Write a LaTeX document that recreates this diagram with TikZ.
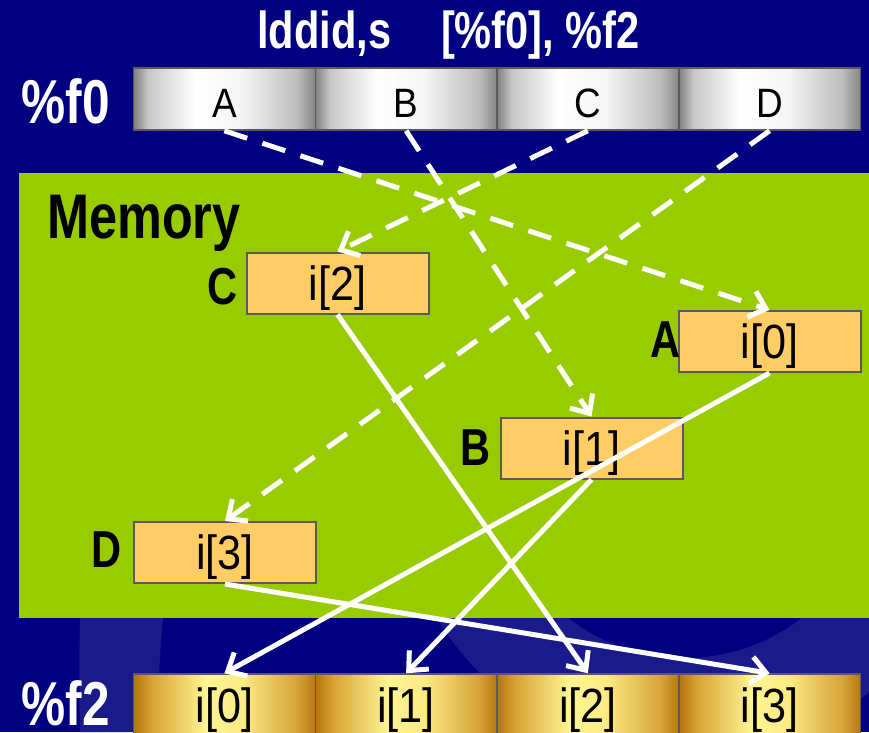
\documentclass[tikz,border=0pt]{standalone}
\usepackage{fontspec}
\setmainfont{Liberation Sans}
\newfontfamily\condb[FakeStretch=0.8]{Liberation Sans}
\newfontfamily\condr[FakeStretch=0.9]{Liberation Sans}
\usetikzlibrary{arrows.meta}
\definecolor{navybg}{HTML}{000080}
\definecolor{ringcol}{HTML}{1A1A8A}
\definecolor{memgreen}{HTML}{99CC00}
\definecolor{boxorange}{HTML}{FFCC66}
\definecolor{cellborder}{HTML}{5A5A5A}
% positions 25bp..75bp map onto the shaded path
\pgfdeclarehorizontalshading{silverbar}{100bp}{rgb(0bp)=(0.5,0.5,0.5); rgb(25bp)=(0.5,0.5,0.5); rgb(29bp)=(0.78,0.78,0.78); rgb(42bp)=(1,1,1); rgb(55bp)=(0.96,0.96,0.96); rgb(70bp)=(0.74,0.74,0.74); rgb(75bp)=(0.52,0.52,0.52); rgb(100bp)=(0.52,0.52,0.52)}
\pgfdeclarehorizontalshading{goldbar}{100bp}{rgb(0bp)=(0.70,0.45,0.05); rgb(25bp)=(0.70,0.45,0.05); rgb(30bp)=(0.85,0.64,0.20); rgb(45bp)=(1,0.96,0.58); rgb(55bp)=(0.99,0.92,0.52); rgb(70bp)=(0.84,0.64,0.22); rgb(75bp)=(0.71,0.47,0.07); rgb(100bp)=(0.71,0.47,0.07)}
\tikzset{
  x=1pt, y=-1pt,
  titletxt/.style={text=white, inner sep=0pt, font=\condb\bfseries\fontsize{52}{52}\selectfont},
  regname/.style={text=white, inner sep=0pt, text depth=0pt, font=\condb\bfseries\fontsize{62}{62}\selectfont},
  memtitle/.style={text=black, inner sep=0pt, font=\condb\bfseries\fontsize{63}{63}\selectfont},
  memlabel/.style={text=black, inner sep=0pt, font=\condb\bfseries\fontsize{52}{52}\selectfont},
  regcell/.style={rectangle, draw=cellborder, line width=1.5pt, shading=silverbar,
     minimum width=181.75pt, minimum height=62pt, inner sep=0pt,
     text height=37pt, text depth=0pt, font=\condr\fontsize{41}{41}\selectfont},
  goldcell/.style={rectangle, draw=cellborder, line width=1.5pt, shading=goldbar,
     minimum width=181.75pt, minimum height=63pt, inner sep=0pt,
     text height=34pt, text depth=0pt, font=\condr\fontsize{48}{48}\selectfont},
  membox/.style={rectangle, draw=cellborder, line width=2pt, fill=boxorange,
     minimum width=182pt, minimum height=61pt, inner sep=0pt,
     text height=34pt, text depth=0pt, font=\condr\fontsize{48}{48}\selectfont},
  loadarrow/.style={draw=white, line width=5pt, dash pattern=on 24pt off 16pt,
     -{Straight Barb[length=15pt,width=27pt]}},
  storearrow/.style={draw=white, line width=5pt,
     -{Straight Barb[length=15pt,width=27pt]}}
}
\begin{document}
\begin{tikzpicture}
\useasboundingbox (0,0) rectangle (869,732);
% background
\fill[navybg] (0,0) rectangle (869,732);
\fill[ringcol, even odd rule] (685,468) circle[radius=290] (685,468) circle[radius=190];
\fill[ringcol] (80,618) .. controls (79,660) and (79,700) .. (80,732) -- (157,732) .. controls (158,690) and (160,650) .. (163,618) -- cycle;
% memory area
\fill[memgreen] (19,173) rectangle (869,618);
\node[memtitle, anchor=base] (memt) at (144,238) {Memory};

% title and register names
\node[titletxt, anchor=base] (title) at (448.5,48) {lddid,s\hspace{50pt}[\%f0], \%f2};
\node[regname, anchor=base] (f0name) at (66,123) {\%f0};
\node[regname, anchor=base] (f2name) at (66,725) {\%f2};

% %f0 register
\node[regcell] (ra) at (224.375,99) {A};
\node[regcell] (rb) at (406.125,99) {B};
\node[regcell] (rc) at (587.875,99) {C};
\node[regcell] (rd) at (769.625,99) {D};

% %f2 register
\node[goldcell] (q0) at (224.375,705.5) {i[0]};
\node[goldcell] (q1) at (406.125,705.5) {i[1]};
\node[goldcell] (q2) at (587.875,705.5) {i[2]};
\node[goldcell] (q3) at (769.625,705.5) {i[3]};

% memory boxes
\node[membox] (m2) at (337.5,283) {i[2]};
\node[membox] (m0) at (769.5,341.5) {i[0]};
\node[membox] (m1) at (591.5,448) {i[1]};
\node[membox] (m3) at (225,552.5) {i[3]};

% memory labels
\node[memlabel, anchor=base east] (lc) at (238,304) {C};
\node[memlabel, anchor=base east] (la) at (681,357) {A};
\node[memlabel, anchor=base east] (lb) at (491,465) {B};
\node[memlabel, anchor=base east] (ld) at (122,567) {D};

% load (dashed) arrows
\draw[loadarrow] (ra.south) -- (m0.north);
\draw[loadarrow] (rb.south) -- (m1.north);
\draw[loadarrow] (rc.south) -- (m2.north);
\draw[loadarrow] (rd.south) -- (m3.north);

% solid arrows to %f2
\draw[storearrow] (m0.south) -- (q0.north);
\draw[storearrow] (m1.south) -- (q1.north);
\draw[storearrow] (m2.south) -- (q2.north);
\draw[storearrow] (m3.south) -- (q3.north);
\end{tikzpicture}
\end{document}
